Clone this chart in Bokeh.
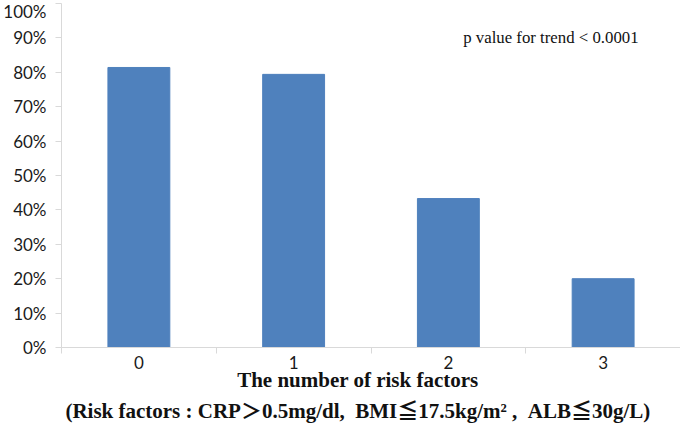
from bokeh.plotting import figure
from bokeh.models import (FactorRange, Range1d, NumeralTickFormatter, FixedTicker, Label,
                          ColumnDataSource, LinearAxis)
from bokeh.embed import file_html
from bokeh.resources import INLINE

categories = ["0", "1", "2", "3"]
values = [0.814, 0.794, 0.433, 0.200]
y_ticks = [0.0, 0.1, 0.2, 0.3, 0.4, 0.5, 0.6, 0.7, 0.8, 0.9, 1.0]
annotation = "p value for trend < 0.0001"
xlabel1 = "The number of risk factors"
xlabel2 = "(Risk factors : CRP\uff1e0.5mg/dl,\u00a0\u00a0BMI\u226617.5kg/m\u00b2 ,\u00a0\u00a0ALB\u226630g/L)"

src = ColumnDataSource(dict(cat=categories, val=values))

p = figure(width=680, height=425, x_range=FactorRange(*categories, range_padding=0),
           y_range=Range1d(0, 1.0), output_backend="svg", toolbar_location=None,
           title_location=None,
           min_border_left=58, min_border_right=0, min_border_top=3, min_border_bottom=70)
p.vbar(x="cat", top="val", width=0.4, source=src, fill_color="#4f81bd", line_color="#4f81bd")

p.outline_line_color = None
p.xgrid.grid_line_color = None
p.ygrid.grid_line_color = None
p.background_fill_color = "white"

p.yaxis.ticker = FixedTicker(ticks=y_ticks)
p.yaxis.formatter = NumeralTickFormatter(format="0%")
p.yaxis.axis_line_color = "#d9d9d9"
p.yaxis.major_tick_line_color = "#d9d9d9"
p.yaxis.major_tick_out = 6
p.yaxis.major_tick_in = 0
p.yaxis.minor_tick_line_color = None
p.yaxis.major_label_text_font = "Lato"
p.yaxis.major_label_text_font_size = "17px"
p.yaxis.major_label_text_color = "#1a1a1a"
p.yaxis.major_label_standoff = 9

# boundary ticks between categories (Excel style), in synthetic category coordinates
bound_axis = LinearAxis(ticker=FixedTicker(ticks=list(range(len(categories) + 1))))
bound_axis.axis_line_color = "#d9d9d9"
bound_axis.major_tick_line_color = "#d9d9d9"
bound_axis.major_tick_out = 6
bound_axis.major_tick_in = 0
bound_axis.minor_tick_line_color = None
bound_axis.major_label_text_font_size = "0px"
bound_axis.major_label_standoff = 0

pad = "\u00a0" * 5
cat_axis = p.xaxis[0]
cat_axis.axis_line_color = None
cat_axis.major_tick_line_color = None
cat_axis.minor_tick_line_color = None
cat_axis.major_label_text_font = "Lato"
cat_axis.major_label_text_font_size = "17px"
cat_axis.major_label_text_color = "#1a1a1a"
cat_axis.major_label_standoff = -4
cat_axis.axis_label = xlabel1 + pad + "\n" + xlabel2 + pad
cat_axis.axis_label_text_font = "'Liberation Serif', 'Noto Sans CJK JP'"
cat_axis.axis_label_text_font_size = "21px"
cat_axis.axis_label_text_font_style = "bold"
cat_axis.axis_label_text_color = "#111111"
cat_axis.axis_label_text_line_height = 1.3
cat_axis.axis_label_standoff = -4

p.below = [bound_axis, cat_axis]

p.add_layout(Label(x=2.596, y=0.901, text=annotation, text_font="Liberation Serif",
                   text_font_size="16.8px", text_baseline="middle", text_color="#111111"))

open("out.html", "w").write(file_html(p, INLINE))
